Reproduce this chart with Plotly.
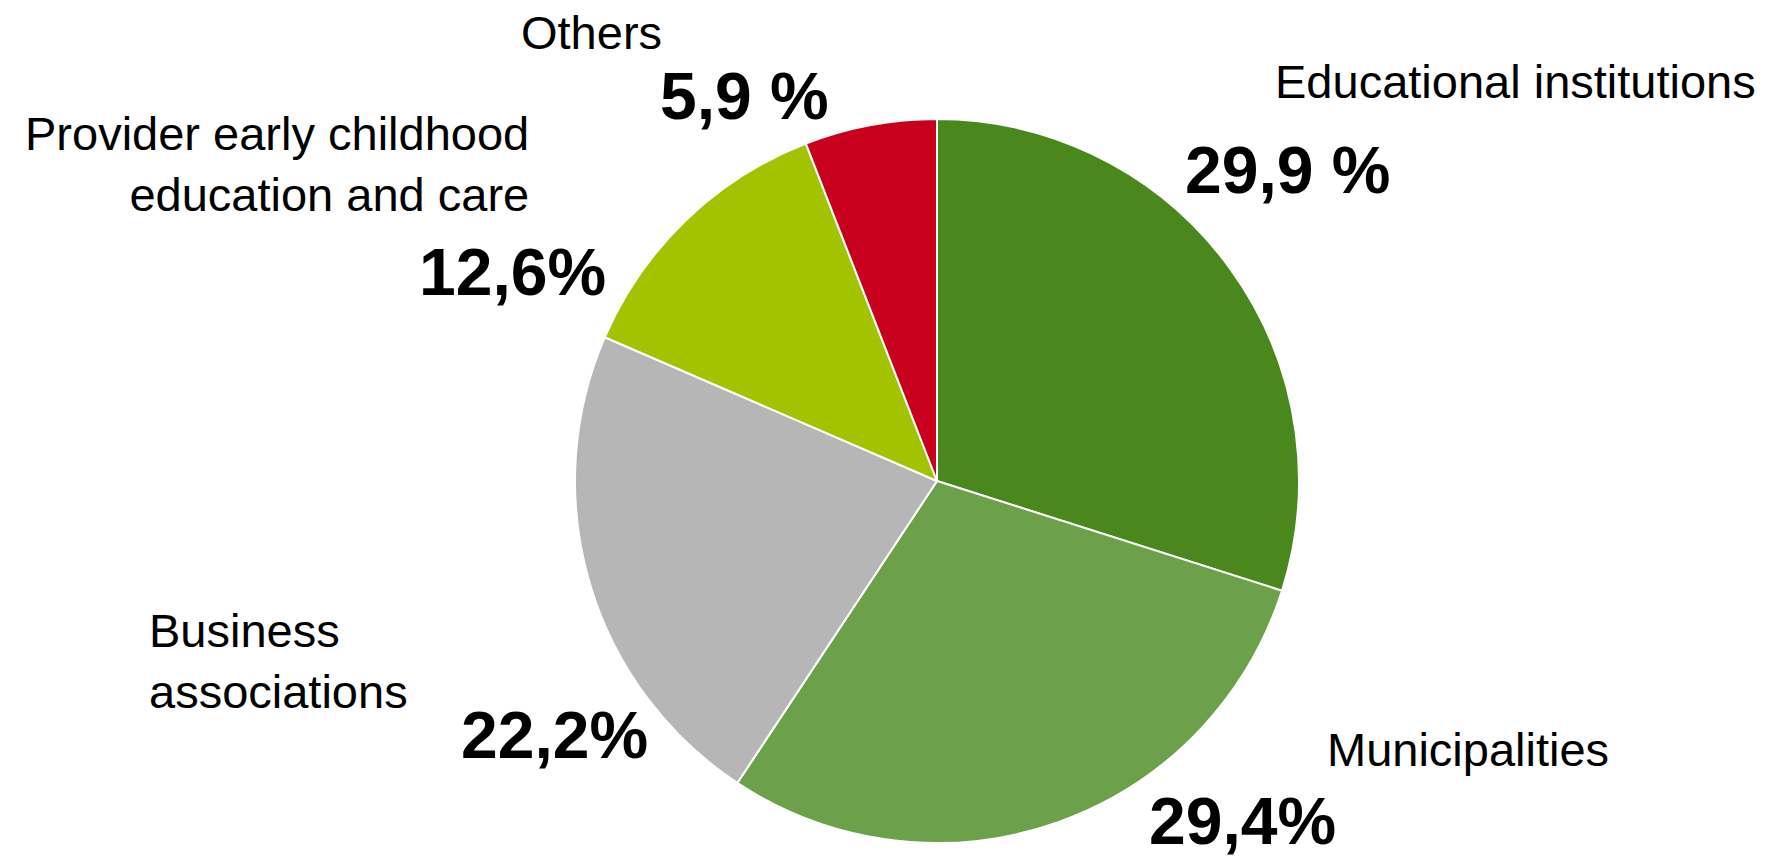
import plotly.graph_objects as go

W, H = 1779, 859

categories = ["Educational institutions", "Municipalities", "Business associations",
              "Provider early childhood education and care", "Others"]
values = [29.9, 29.4, 22.2, 12.6, 5.9]
value_labels = ["29,9 %", "29,4%", "22,2%", "12,6%", "5,9 %"]
name_labels = ["Educational institutions", "Municipalities", "Business<br>associations",
               "Provider early childhood<br>education and care", "Others"]
colors = ["#4A881E", "#6DA04A", "#B6B6B6", "#A3C300", "#C8001E"]

fig = go.Figure(go.Pie(
    labels=categories, values=values, sort=False, direction="clockwise", rotation=0,
    marker=dict(colors=colors, line=dict(color="white", width=2)),
    textinfo="none", hoverinfo="label+percent", showlegend=False,
    domain=dict(x=[575 / W, 1299 / W], y=[1 - 844 / H, 1 - 118 / H]),
))

# label positions in pixels (x, y from top), alignment
name_pos = [(1515, 82, "center", "center"), (1468, 749, "center", "center"),
            (147, 661, "left", "left"), (531, 164, "right", "right"), (591, 32, "center", "center")]
val_pos = [(1287, 170), (1242, 821), (554, 735), (512, 272), (744, 96)]

font = "Liberation Sans, Arial, sans-serif"
anns = []
for txt, (x, y, xa, al) in zip(name_labels, name_pos):
    anns.append(dict(text=txt, x=x / W, y=1 - y / H, xref="paper", yref="paper",
                     xanchor=xa, yanchor="middle", align=al, showarrow=False,
                     font=dict(family=font, size=47, color="black")))
for txt, (x, y) in zip(value_labels, val_pos):
    anns.append(dict(text="<b>" + txt + "</b>", x=x / W, y=1 - y / H, xref="paper", yref="paper",
                     xanchor="center", yanchor="middle", showarrow=False,
                     font=dict(family=font, size=66, color="black")))

fig.update_layout(width=W, height=H, margin=dict(l=0, r=0, t=0, b=0),
                  paper_bgcolor="white", plot_bgcolor="white", annotations=anns)
fig.write_html("out.html")
